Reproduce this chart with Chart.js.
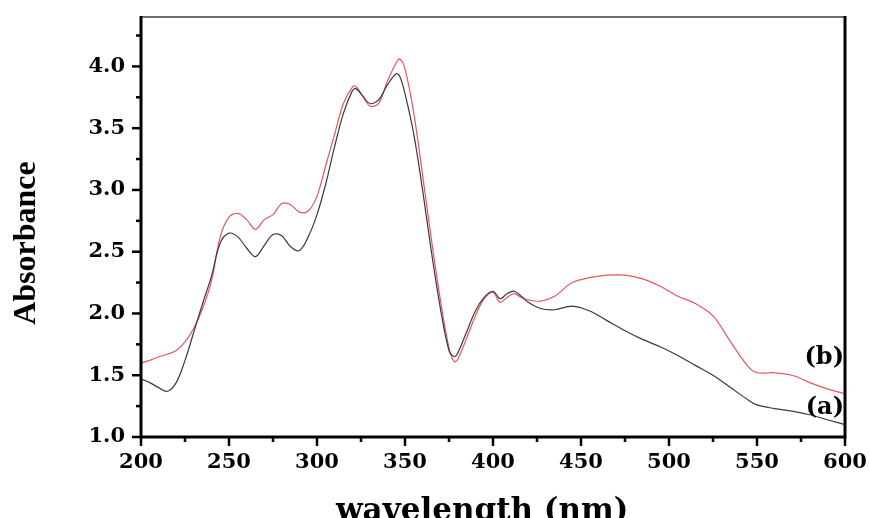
<!DOCTYPE html>
<html>
<head>
<meta charset="utf-8">
<script src="https://cdn.jsdelivr.net/npm/chart.js@4.4.1/dist/chart.umd.min.js"></script>
<style>
  html, body { margin: 0; padding: 0; background: #fff; }
  #wrap { width: 870px; height: 518px; position: relative; }
</style>
</head>
<body>
<div id="wrap"><canvas id="grafico"></canvas></div>
<script>
// comprimento de onda (nm)
const wavelength = [200, 205, 210, 215, 220, 225, 230, 235, 240, 245, 250, 255, 260, 265, 270, 275,
  280, 285, 290, 295, 300, 305, 310, 315, 320, 322, 325, 330, 335, 340, 345, 347, 350, 355, 360,
  365, 370, 375, 378, 380, 385, 390, 395, 400, 404, 408, 412, 416, 420, 427, 435, 445, 455, 465,
  475, 485, 495, 505, 515, 525, 535, 545, 550, 560, 570, 580, 590, 600];

// curva (a) — preta
const absA = [1.47, 1.44, 1.40, 1.37, 1.44, 1.62, 1.85, 2.08, 2.30, 2.57, 2.65, 2.62, 2.53, 2.46, 2.55, 2.64,
  2.63, 2.54, 2.51, 2.62, 2.80, 3.05, 3.35, 3.62, 3.80, 3.82, 3.78, 3.70, 3.73, 3.85, 3.94, 3.92, 3.78, 3.45, 3.00,
  2.50, 2.05, 1.70, 1.65, 1.68, 1.85, 2.02, 2.13, 2.18, 2.12, 2.16, 2.18, 2.14, 2.09, 2.04, 2.03, 2.06, 2.02, 1.94,
  1.86, 1.79, 1.73, 1.66, 1.58, 1.50, 1.40, 1.30, 1.26, 1.23, 1.21, 1.18, 1.14, 1.10];

// curva (b) — vermelha
const absB = [1.60, 1.62, 1.65, 1.67, 1.70, 1.77, 1.88, 2.04, 2.26, 2.62, 2.78, 2.81, 2.76, 2.68, 2.76, 2.80,
  2.89, 2.88, 2.82, 2.83, 2.95, 3.20, 3.45, 3.70, 3.83, 3.84, 3.78, 3.68, 3.70, 3.88, 4.03, 4.06, 3.98, 3.62, 3.12,
  2.60, 2.12, 1.72, 1.61, 1.63, 1.80, 1.98, 2.12, 2.17, 2.09, 2.13, 2.16, 2.13, 2.11, 2.10, 2.14, 2.25, 2.29, 2.31,
  2.31, 2.28, 2.22, 2.14, 2.08, 1.98, 1.77, 1.57, 1.52, 1.52, 1.50, 1.44, 1.39, 1.35];

const xTicks = [200, 250, 300, 350, 400, 450, 500, 550, 600];
const yTicks = [1.0, 1.5, 2.0, 2.5, 3.0, 3.5, 4.0];
const curveLabels = ["(a)", "(b)"];

const pts = (ys) => wavelength.map((x, i) => ({ x, y: ys[i] }));

/* moldura, ticks maiores/menores e rótulos (a)/(b) */
const moldura = {
  id: "moldura",
  afterDraw(chart) {
    const { ctx, chartArea: a, scales: { x, y } } = chart;
    ctx.save();
    // topo cinza
    ctx.strokeStyle = "#6e6e6e"; ctx.lineWidth = 2;
    ctx.beginPath(); ctx.moveTo(a.left, a.top); ctx.lineTo(a.right, a.top); ctx.stroke();
    // eixos pretos
    ctx.strokeStyle = "#000"; ctx.lineWidth = 3;
    ctx.beginPath();
    ctx.moveTo(a.left, a.top - 1); ctx.lineTo(a.left, a.bottom);
    ctx.lineTo(a.right, a.bottom); ctx.lineTo(a.right, a.top - 1);
    ctx.stroke();
    // ticks
    ctx.lineWidth = 2.5;
    for (let v = 200; v <= 600; v += 25) {
      const px = x.getPixelForValue(v), len = v % 50 === 0 ? 9 : 5;
      ctx.beginPath(); ctx.moveTo(px, a.bottom); ctx.lineTo(px, a.bottom + len); ctx.stroke();
    }
    for (let v = 1.0; v <= 4.3; v += 0.25) {
      const py = y.getPixelForValue(v), len = Math.abs(v * 2 - Math.round(v * 2)) < 1e-6 ? 9 : 5;
      ctx.beginPath(); ctx.moveTo(a.left, py); ctx.lineTo(a.left - len, py); ctx.stroke();
    }
    // rótulos das curvas
    ctx.fillStyle = "#000";
    ctx.font = "bold 24px 'DejaVu Serif'";
    ctx.textAlign = "right"; ctx.textBaseline = "middle";
    ctx.fillText(curveLabels[1], a.right - 1, y.getPixelForValue(1.64));
    ctx.fillText(curveLabels[0], a.right - 1, y.getPixelForValue(1.24));
    ctx.restore();
  },
};

new Chart(document.getElementById("grafico"), {
  type: "line",
  data: {
    datasets: [
      { label: "(a)", data: pts(absA), borderColor: "#3a3a3a", borderWidth: 1.2, pointRadius: 0, tension: 0.35 },
      { label: "(b)", data: pts(absB), borderColor: "#e5575b", borderWidth: 1.2, pointRadius: 0, tension: 0.35 },
    ],
  },
  options: {
    responsive: true, maintainAspectRatio: false, animation: false,
    layout: { padding: { top: 17, right: 25, left: 0, bottom: 0 } },
    plugins: { legend: { display: false }, tooltip: { enabled: false } },
    scales: {
      x: {
        type: "linear", min: 200, max: 600,
        afterBuildTicks: (s) => { s.ticks = xTicks.map((value) => ({ value })); },
        afterFit: (s) => { s.height = 81; s.paddingLeft = 0; s.paddingRight = 0; },
        grid: { display: false, drawTicks: false },
        border: { display: false },
        ticks: { padding: 13, color: "#000", font: { family: "DejaVu Serif", weight: "bold", size: 21 }, maxRotation: 0 },
        title: {
          display: true, text: "wavelength (nm)\u00a0\u00a0", color: "#000",
          font: { family: "DejaVu Serif", weight: "bold", size: 31 }, padding: { top: 0, bottom: -13 },
        },
      },
      y: {
        min: 1.0, max: 4.40,
        afterBuildTicks: (s) => { s.ticks = yTicks.map((value) => ({ value })); },
        afterFit: (s) => { s.width = 141; s.paddingTop = 0; s.paddingBottom = 0; },
        grid: { display: false, drawTicks: false },
        border: { display: false },
        ticks: {
          padding: 16, color: "#000", font: { family: "DejaVu Serif", weight: "bold", size: 21 },
          callback: (v) => Number(v).toFixed(1),
        },
        title: {
          display: true, text: "Absorbance\u00a0\u00a0\u00a0\u00a0", color: "#000",
          font: { family: "Liberation Serif", weight: "bold", size: 32 }, padding: { top: 8, bottom: 0 },
        },
      },
    },
  },
  plugins: [moldura],
});
</script>
</body>
</html>
